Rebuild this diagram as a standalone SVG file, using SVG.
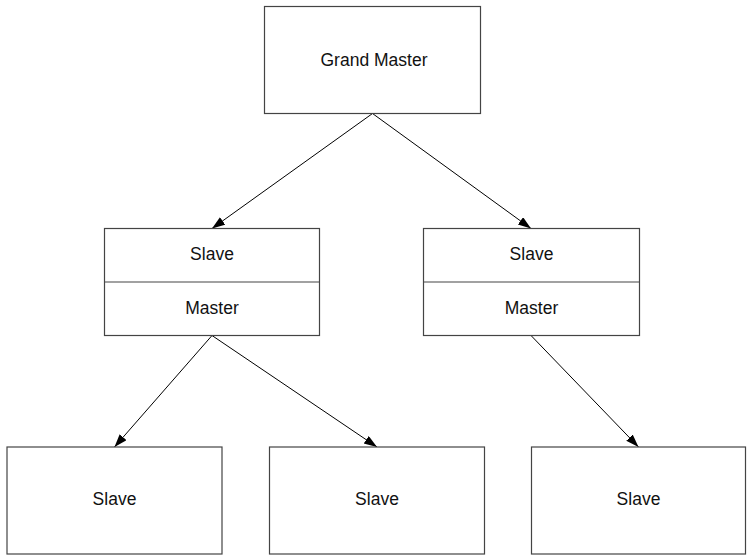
<svg xmlns="http://www.w3.org/2000/svg" width="749" height="555" viewBox="0 0 749 555">
<style>
.box{fill:#ffffff;stroke:#444444;stroke-width:1.2}
.lbl{font-family:"Liberation Sans",Arial,sans-serif;font-size:17.5px;fill:#111111;text-anchor:middle}
.conn{stroke:#000000;stroke-width:1;fill:none;marker-end:url(#arr)}
</style>
<defs>
<marker id="arr" markerUnits="userSpaceOnUse" markerWidth="14" markerHeight="10" refX="13" refY="4.5" orient="auto">
<path d="M0,0 L13,4.5 L0,9 z" fill="#000000"/>
</marker>
</defs>
<rect width="749" height="555" fill="#ffffff"/>
<g id="connectors">
<line class="conn" x1="372.5" y1="113.5" x2="212" y2="228.5"/>
<line class="conn" x1="372.5" y1="113.5" x2="531" y2="228.5"/>
<line class="conn" x1="212" y1="335.5" x2="114.5" y2="447"/>
<line class="conn" x1="212" y1="335.5" x2="377" y2="447"/>
<line class="conn" x1="531" y1="335.5" x2="638.5" y2="447"/>
</g>
<g id="grandmaster">
<rect class="box" x="264.5" y="6.5" width="216" height="107"/>
<text class="lbl" x="374" y="65.5">Grand Master</text>
</g>
<g id="boundary-left">
<rect class="box" x="104.5" y="228.5" width="215" height="107"/>
<line x1="104.5" y1="282" x2="319.5" y2="282" stroke="#444444" stroke-width="1.2"/>
<text class="lbl" x="212" y="260">Slave</text>
<text class="lbl" x="212" y="313.5">Master</text>
</g>
<g id="boundary-right">
<rect class="box" x="423.5" y="228.5" width="216" height="107"/>
<line x1="423.5" y1="282" x2="639.5" y2="282" stroke="#444444" stroke-width="1.2"/>
<text class="lbl" x="531.5" y="260">Slave</text>
<text class="lbl" x="531.5" y="313.5">Master</text>
</g>
<g id="slave-1">
<rect class="box" x="7" y="447" width="215" height="107"/>
<text class="lbl" x="114.5" y="505">Slave</text>
</g>
<g id="slave-2">
<rect class="box" x="269.5" y="447" width="215" height="107"/>
<text class="lbl" x="377" y="505">Slave</text>
</g>
<g id="slave-3">
<rect class="box" x="531.5" y="447" width="214" height="107"/>
<text class="lbl" x="638.5" y="505">Slave</text>
</g>
</svg>
